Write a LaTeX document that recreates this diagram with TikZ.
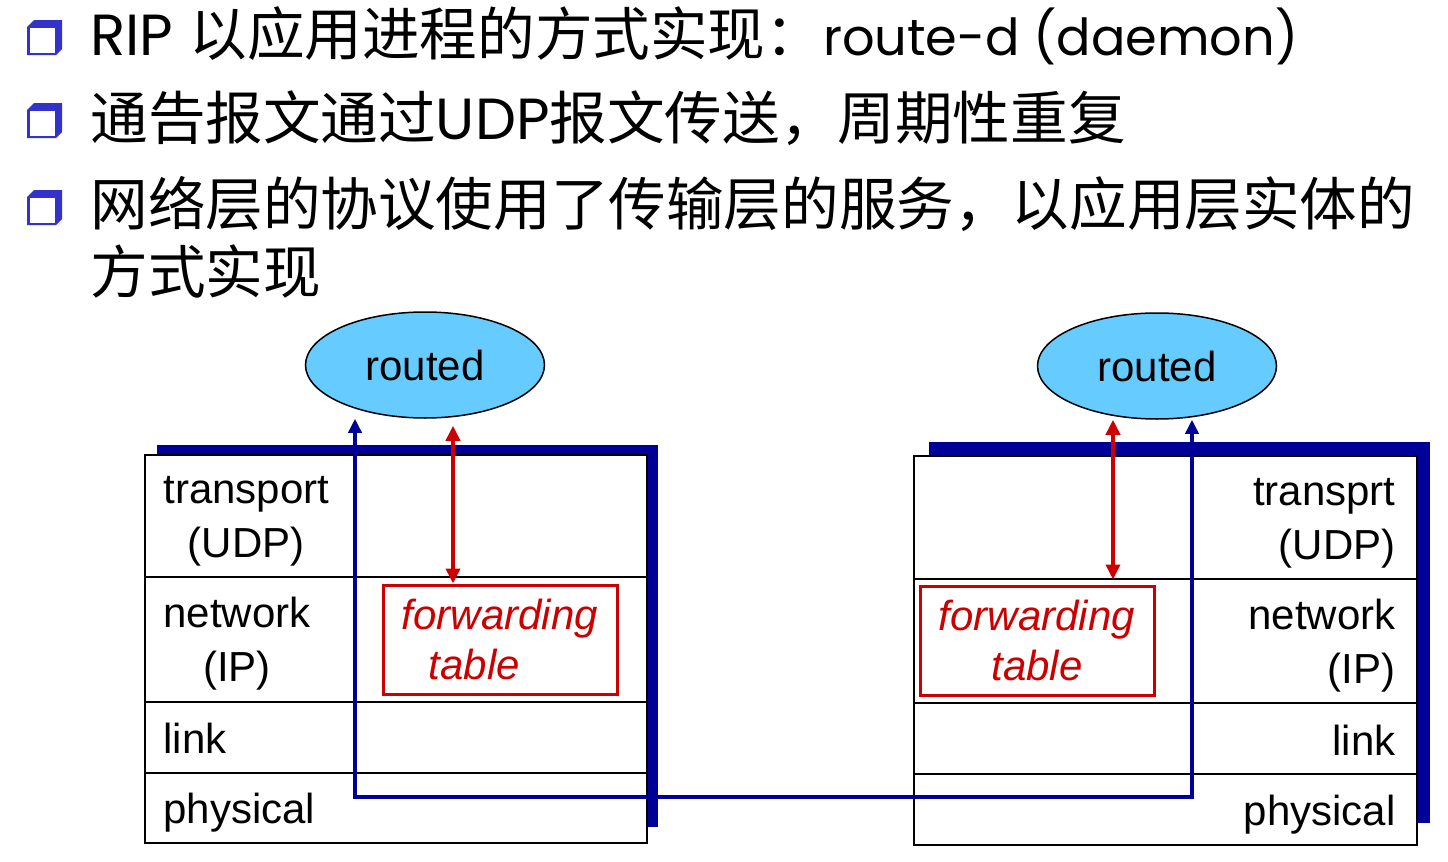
\documentclass[tikz,border=0pt]{standalone}
\usepackage{fontspec}
\setmainfont{Liberation Sans}
\newfontfamily\cjk{Noto Sans CJK SC}
\newfontfamily\comic{Poppins}
\usetikzlibrary{shapes.geometric,arrows.meta,positioning}
\definecolor{navy}{HTML}{000099}
\definecolor{fwdred}{HTML}{CC0000}
\definecolor{daemon}{HTML}{66CCFF}
\definecolor{bulletblue}{HTML}{3333CC}

\begin{document}
\begin{tikzpicture}[x=0.5pt, y=-0.5pt,
  headline/.style={anchor=base west, inner sep=0pt, font=\fontsize{28.8}{34}\selectfont},
  daemonbox/.style={ellipse, draw, line width=0.75pt, fill=daemon, minimum width=119.5pt, minimum height=53pt, inner sep=0pt, font=\fontsize{21}{25}\selectfont},
  tablebox/.style={rectangle, draw=fwdred, line width=1.5pt, minimum width=117pt, minimum height=54.5pt, inner sep=0pt, text=fwdred, font=\fontsize{21}{25}\selectfont\itshape},
  layertext/.style={inner sep=0pt, font=\fontsize{21}{27}\selectfont},
  layerline/.style={draw, line width=0.9pt},
  udp/.style={{Triangle[length=7pt,width=6.5pt]}-{Triangle[length=7pt,width=6.5pt]}, line width=1.8pt, navy},
  fwd/.style={{Triangle[length=7.5pt,width=7pt]}-{Triangle[length=7.5pt,width=7pt]}, line width=1.8pt, fwdred}
]
  \useasboundingbox (0,0) rectangle (1448,862);

  % bullets
  \foreach \by in {20,103,190} {
    \fill[bulletblue] (27,\by+7) -- (34,\by) -- (62,\by) -- (62,\by+29) -- (56,\by+35) -- (27,\by+35) -- cycle;
    \fill[white] (29.5,\by+8) rectangle (55,\by+33);
  }
  \node[headline] (line1) at (90,55) {{\comic\fontsize{29}{34}\selectfont RIP} {\cjk 以应用进程的方式实现：}{\comic\fontsize{25.5}{34}\selectfont route-d (daemon)}};
  \node[headline] (line2) at (90,139) {{\cjk 通告报文通过}{\comic\fontsize{29}{34}\selectfont UDP}{\cjk 报文传送，周期性重复}};
  \node[headline] (line3) at (90,225) {\cjk 网络层的协议使用了传输层的服务，以应用层实体的};
  \node[headline] (line4) at (90,293) {\cjk 方式实现};

  % left stack
  \fill[navy] (157,445) rectangle (658,827);
  \draw[layerline, fill=white] (145,455) rectangle (647,843);
  \foreach \dy in {577,702,773}
    \draw[layerline] (145,\dy) -- (647,\dy);
  \node[layertext, align=center, anchor=base west] (transL) at (163,557) {transport\\(UDP)};
  \node[layertext, align=center, anchor=base west] (netL) at (163,681) {network\\(IP)};
  \node[layertext, anchor=base west] (linkL) at (163,753) {link};
  \node[layertext, anchor=base west] (physL) at (163,823) {physical};

  % right stack
  \fill[navy] (929,442) rectangle (1430,823);
  \draw[layerline, fill=white] (914,456) rectangle (1417,845);
  \foreach \dy in {579,703,774}
    \draw[layerline] (914,\dy) -- (1417,\dy);
  \node[layertext, align=right, anchor=base east] (transR) at (1396,559) {transprt\\(UDP)};
  \node[layertext, align=right, anchor=base east] (netR) at (1396,683) {network\\(IP)};
  \node[layertext, anchor=base east] (linkR) at (1396,755) {link};
  \node[layertext, anchor=base east] (physR) at (1396,825) {physical};

  % daemons and tables
  \node[daemonbox] (routedL) at (425,365) {routed};
  \node[daemonbox] (routedR) at (1157,366) {routed};
  \node[tablebox, align=left] (ftL) at (500,639.5) {forwarding\\\hspace*{13.5pt}table};
  \node[tablebox, align=center] (ftR) at (1037,640.5) {forwarding\\table};

  % connectors
  \coordinate (wireL) at (355,797);
  \coordinate (wireR) at (1192,797);
  \coordinate (tapL) at (453,0);
  \coordinate (tapR) at (1113,0);
  \draw[udp] (routedL.south -| wireL) -- (wireL) -- (wireR) -- (routedR.south -| wireR);
  \draw[fwd, shorten <=3.5pt] (routedL.south -| tapL) -- (ftL.north -| tapL);
  \draw[fwd, shorten >=2.5pt] (routedR.south -| tapR) -- (ftR.north -| tapR);
\end{tikzpicture}
\end{document}
